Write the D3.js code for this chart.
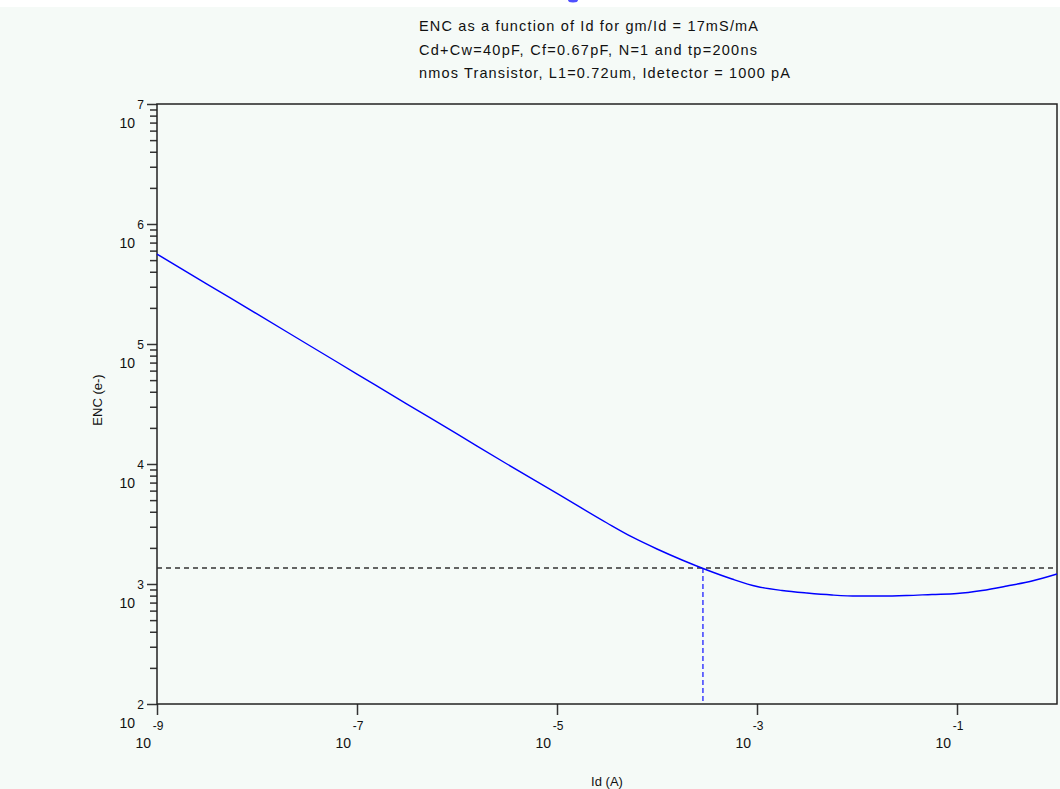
<!DOCTYPE html>
<html>
<head>
<meta charset="utf-8">
<script src="https://cdn.jsdelivr.net/npm/d3@7"></script>
<style>
  body { margin: 0; background: #f5faf7; }
  svg { display: block; }
  text { font-family: "Liberation Sans", Arial, sans-serif; fill: #111; }
</style>
</head>
<body>
<script>
// Data
var idValues  = [1e-9, 3.16e-9, 1e-8, 3.16e-8, 1e-7, 3.16e-7, 1e-6, 3.16e-6, 1e-5,
                 3.16e-5, 5.62e-5, 1e-4, 1.78e-4, 3.16e-4, 5.62e-4, 1e-3, 1.78e-3,
                 3.16e-3, 5.62e-3, 1e-2, 1.78e-2, 3.16e-2, 5.62e-2, 1e-1, 1.78e-1,
                 3.16e-1, 5.62e-1, 1];
var encValues = [562000, 316000, 178000, 100000, 56200, 31600, 17800, 10000, 5690,
                 3223, 2465, 1957, 1585, 1308, 1101, 953, 883,
                 841, 810, 794, 794, 802, 818, 833, 883,
                 962, 1059, 1212];
var encLimit = 1360;     // horizontal dashed line
var idAtLimit = 2.88e-4; // vertical dashed line
var xTickExps = [-9, -7, -5, -3, -1];
var yTickExps = [2, 3, 4, 5, 6, 7];
var titleLines = [
  "ENC as a function of Id for gm/Id = 17mS/mA",
  "Cd+Cw=40pF, Cf=0.67pF, N=1 and tp=200ns",
  "nmos Transistor, L1=0.72um, Idetector = 1000 pA"
];

var width = 1060, height = 789;
// plot box (obs: "top" krockar med window.top)
var pLeft = 157, pRight = 1057, pTop = 104, pBottom = 704;

var svg = d3.select("body").append("svg").attr("width", width).attr("height", height);

// background bits
svg.append("rect").attr("width", width).attr("height", height).attr("fill", "#f5faf7");
svg.append("rect").attr("width", width).attr("height", 7).attr("fill", "#ffffff");
svg.append("ellipse").attr("cx", 573).attr("cy", 0).attr("rx", 5).attr("ry", 2.5).attr("fill", "#5050ff");

// title
var titleWidths = [339, 338, 371];
svg.selectAll("text.title").data(titleLines).enter()
  .append("text")
  .attr("class", "title")
  .attr("x", 419)
  .attr("y", function(d, i) { return 31 + i * 23.5; })
  .attr("textLength", function(d, i) { return titleWidths[i]; })
  .attr("lengthAdjust", "spacing")
  .style("font-size", "14.5px")
  .text(function(d) { return d; });

// scales
var x = d3.scaleLog().domain([1e-9, 1]).range([pLeft, pRight]);
var y = d3.scaleLog().domain([100, 1e7]).range([pBottom, pTop]);

function styleTicks(g) {
  g.select(".domain").remove();
  g.selectAll("line").attr("stroke", "#333").attr("stroke-width", 1.5);
}

// y axis ticks (minor + major)
var yMajor = yTickExps.map(function(e) { return Math.pow(10, e); });
var yMinor = y.ticks().filter(function(v) { return yMajor.indexOf(v) < 0; });
svg.append("g")
  .attr("transform", "translate(" + pLeft + ",0)")
  .call(d3.axisLeft(y).tickValues(yMinor).tickSize(7).tickFormat(""))
  .call(styleTicks);

svg.append("g")
  .attr("transform", "translate(" + pLeft + ",0)")
  .call(d3.axisLeft(y).tickValues(yMajor).tickSize(10).tickFormat(""))
  .call(styleTicks);

var yLab = svg.append("g");
yTickExps.forEach(function(e) {
  var ty = y(Math.pow(10, e));
  yLab.append("text").attr("x", 135).attr("y", ty + 24).attr("text-anchor", "end")
    .style("font-size", "14px").text("10");
  yLab.append("text").attr("x", 144).attr("y", ty + 4.5).attr("text-anchor", "end")
    .style("font-size", "12px").text(e);
});

// x axis ticks
svg.append("g")
  .attr("transform", "translate(0," + pBottom + ")")
  .call(d3.axisBottom(x).tickValues(xTickExps.map(function(e) { return Math.pow(10, e); })).tickSize(11).tickFormat(""))
  .call(styleTicks);

var xLab = svg.append("g");
xTickExps.forEach(function(e) {
  var tx = x(Math.pow(10, e));
  xLab.append("text").attr("x", tx + 1).attr("y", 730).attr("text-anchor", "middle")
    .style("font-size", "12px").text(e);
  xLab.append("text").attr("x", tx - 6).attr("y", 748).attr("text-anchor", "end")
    .style("font-size", "14px").text("10");
});

// frame
svg.append("rect")
  .attr("x", pLeft).attr("y", pTop).attr("width", pRight - pLeft).attr("height", pBottom - pTop)
  .attr("fill", "none").attr("stroke", "#222").attr("stroke-width", 1.5);

// axis titles
svg.append("text").attr("x", (pLeft + pRight) / 2).attr("y", 786).attr("text-anchor", "middle")
  .style("font-size", "13px").text("Id (A)");
svg.append("text").attr("transform", "translate(102,400) rotate(-90)").attr("text-anchor", "middle")
  .style("font-size", "13px").text("ENC (e-)");

// dashed guides
svg.append("line")
  .attr("x1", pLeft).attr("x2", pRight).attr("y1", y(encLimit)).attr("y2", y(encLimit))
  .attr("stroke", "#333").attr("stroke-width", 1.3).attr("stroke-dasharray", "5,4");
svg.append("line")
  .attr("x1", x(idAtLimit)).attr("x2", x(idAtLimit)).attr("y1", y(encLimit)).attr("y2", pBottom)
  .attr("stroke", "#2020ff").attr("stroke-width", 1.3).attr("stroke-dasharray", "5,3");

// ENC curve
var pts = idValues.map(function(d, i) { return [d, encValues[i]]; });
var line = d3.line()
  .x(function(d) { return x(d[0]); })
  .y(function(d) { return y(d[1]); })
  .curve(d3.curveMonotoneX);
svg.append("path").datum(pts)
  .attr("d", line)
  .attr("fill", "none").attr("stroke", "#0000ff").attr("stroke-width", 1.4);
</script>
</body>
</html>
